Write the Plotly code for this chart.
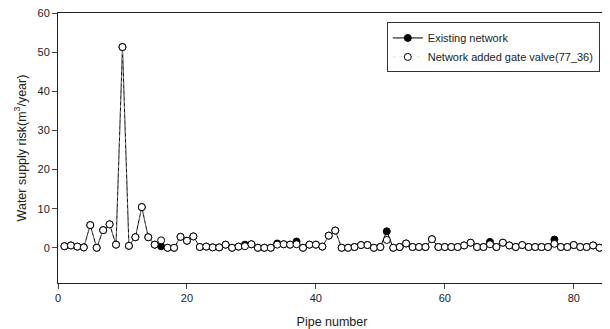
import plotly.graph_objects as go

pipe = list(range(1, 85))
added = [0.4, 0.6, 0.3, 0.1, 5.8, 0.0, 4.5, 6.0, 0.8, 51.3,
         0.5, 2.7, 10.4, 2.7, 0.8, 1.9, 0.0, 0.0, 2.8, 1.8,
         2.9, 0.2, 0.3, 0.1, 0.1, 0.8, 0.0, 0.3, 0.4, 0.9,
         0.0, 0.0, 0.0, 0.8, 0.9, 0.8, 0.9, 0.0, 0.8, 0.8,
         0.3, 3.1, 4.4, 0.0, 0.0, 0.2, 0.7, 0.7, 0.0, 0.2,
         2.0, 0.0, 0.2, 1.1, 0.2, 0.2, 0.2, 2.2, 0.2, 0.2,
         0.2, 0.2, 0.6, 1.3, 0.2, 0.2, 0.9, 0.2, 1.3, 0.6,
         0.2, 0.7, 0.2, 0.2, 0.2, 0.2, 1.0, 0.2, 0.2, 0.7,
         0.2, 0.2, 0.6, 0.0]
existing = list(added)
existing_diff = {16: 0.4, 29: 0.8, 34: 1.1, 37: 1.6, 51: 4.2, 67: 1.5, 77: 2.1}
for k, v in existing_diff.items():
    existing[k - 1] = v

font = "Liberation Sans, Arial, sans-serif"
fig = go.Figure()
fig.add_trace(go.Scatter(
    x=pipe, y=existing, name="Existing network", mode="lines+markers",
    line=dict(color="black", width=1),
    marker=dict(symbol="circle", size=7, color="black", line=dict(color="black", width=1))))
fig.add_trace(go.Scatter(
    x=pipe, y=added, name="Network added gate valve(77_36)", mode="lines+markers",
    line=dict(color="#c8c8c8", width=0.6, dash="dot"),
    marker=dict(symbol="circle", size=7, color="white", line=dict(color="black", width=1))))

# page body has an 8px margin, so the figure is offset by 8px
fig.update_layout(
    width=602, height=321,
    margin=dict(l=50, r=4, t=5, b=46, autoexpand=False),
    plot_bgcolor="white", paper_bgcolor="white",
    font=dict(family=font, size=11, color="#222"),
    showlegend=True,
    legend=dict(x=0.600, y=0.965, xanchor="left", yanchor="top",
                bordercolor="#333", borderwidth=1, bgcolor="white",
                font=dict(size=11, family=font), tracegroupgap=0,
                itemwidth=30),
)
fig.update_xaxes(range=[0, 85], tickvals=[0, 20, 40, 60, 80], ticks="outside", ticklen=5,
                 showline=True, linecolor="#222", linewidth=1, mirror=True, showgrid=False,
                 zeroline=False, automargin=False, ticklabeloverflow="allow",
                 title=dict(text="Pipe number", font=dict(size=12.5), standoff=14))
fig.update_yaxes(range=[-9, 60], tickvals=[0, 10, 20, 30, 40, 50, 60], ticks="outside", ticklen=5,
                 showline=True, linecolor="#222", linewidth=1, mirror=True, showgrid=False,
                 zeroline=False, automargin=False, ticklabeloverflow="allow",
                 title=dict(text="Water supply risk(m<sup>3</sup>/year)", font=dict(size=12.5), standoff=8))

fig.write_html("out.html")
